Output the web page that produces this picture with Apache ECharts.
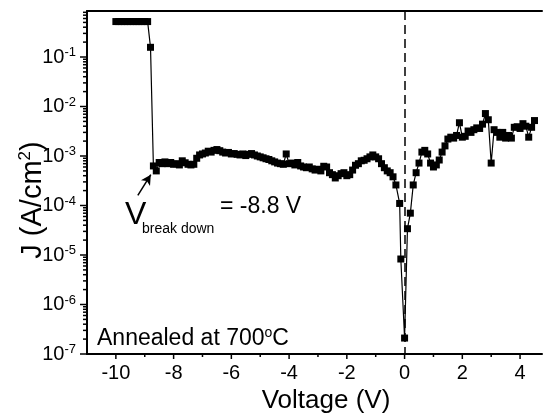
<!DOCTYPE html>
<html><head><meta charset="utf-8">
<script src="https://cdn.jsdelivr.net/npm/echarts@6/dist/echarts.min.js"></script>
<style>html,body{margin:0;padding:0;background:#fff}#c{width:545px;height:416px}</style>
</head><body><div id="c"></div>
<script>
// ---- data ----
const voltage = [
  -10,-9.9,-9.8,-9.7,-9.6,-9.5,-9.4,-9.3,-9.2,-9.1,-9.0,-8.9,-8.8,
  -8.7,-8.6,-8.5,-8.4,-8.3,-8.2,-8.1,-8.0,-7.9,-7.8,-7.7,-7.6,-7.5,-7.4,-7.3,-7.2,-7.1,
  -7.0,-6.9,-6.8,-6.7,-6.6,-6.5,-6.4,-6.3,-6.2,-6.1,-6.0,-5.9,-5.8,-5.7,-5.6,-5.5,-5.4,-5.3,-5.2,-5.1,
  -5.0,-4.9,-4.8,-4.7,-4.6,-4.5,-4.4,-4.3,-4.2,-4.1,-4.0,-3.9,-3.8,-3.7,-3.6,-3.5,-3.4,-3.3,-3.2,-3.1,
  -3.0,-2.9,-2.8,-2.7,-2.6,-2.5,-2.4,-2.3,-2.2,-2.1,-2.0,-1.9,-1.8,-1.7,-1.6,-1.5,-1.4,-1.3,-1.2,-1.1,
  -1.0,-0.9,-0.8,-0.7,-0.6,-0.5,-0.4,-0.3,-0.17,-0.13,0,0.1,0.2,0.3,0.4,0.5,0.6,0.7,0.8,0.9,
  1.0,1.1,1.2,1.3,1.4,1.5,1.6,1.7,1.8,1.9,2.0,2.1,2.2,2.3,2.4,2.5,2.6,2.7,2.8,2.9,
  3.0,3.1,3.2,3.3,3.4,3.5,3.6,3.7,3.8,3.9,4.0,4.1,4.2,4.3,4.4,4.5
];
const currentDensity = [
  0.52,0.52,0.52,0.52,0.52,0.52,0.52,0.52,0.52,0.52,0.52,0.52,0.157,
  6.3e-4,5.0e-4,7.4e-4,7.0e-4,7.6e-4,7.0e-4,7.4e-4,6.8e-4,7.0e-4,6.6e-4,8.0e-4,7.3e-4,6.8e-4,6.6e-4,6.8e-4,9.0e-4,1.05e-3,
  1.1e-3,1.15e-3,1.25e-3,1.2e-3,1.3e-3,1.35e-3,1.28e-3,1.2e-3,1.15e-3,1.18e-3,1.1e-3,1.12e-3,1.08e-3,1.05e-3,1.1e-3,1.02e-3,1.08e-3,1.12e-3,1.05e-3,1.0e-3,
  9.6e-4,9.2e-4,8.8e-4,8.5e-4,8.0e-4,7.6e-4,7.2e-4,7.0e-4,6.8e-4,1.1e-3,7.0e-4,7.2e-4,6.6e-4,7.4e-4,6.3e-4,6.0e-4,5.8e-4,6.0e-4,5.5e-4,5.2e-4,
  5.4e-4,5.0e-4,6.2e-4,6.0e-4,4.6e-4,4.2e-4,3.6e-4,4.0e-4,4.4e-4,4.6e-4,4.0e-4,4.2e-4,5.2e-4,6.5e-4,7.0e-4,8.0e-4,8.2e-4,8.8e-4,9.6e-4,1.05e-3,
  9.6e-4,8.8e-4,7.0e-4,5.8e-4,5.0e-4,4.6e-4,3.8e-4,2.6e-4,1.1e-4,8.3e-6,2.1e-7,3.4e-5,7.0e-5,2.6e-4,4.6e-4,7.2e-4,1.2e-3,1.3e-3,1.1e-3,7.2e-4,
  6.0e-4,6.6e-4,8.3e-4,1.2e-3,1.6e-3,2.2e-3,2.4e-3,2.3e-3,2.6e-3,4.7e-3,2.4e-3,2.5e-3,3.2e-3,3.0e-3,3.4e-3,3.7e-3,3.6e-3,4.4e-3,7.2e-3,5.4e-3,
  7.2e-4,3.4e-3,3.0e-3,2.4e-3,3.0e-3,2.3e-3,2.6e-3,2.3e-3,3.8e-3,3.9e-3,3.6e-3,4.5e-3,4.0e-3,2.4e-3,3.8e-3,5.2e-3
];
const xMajorTicks = [-10,-8,-6,-4,-2,0,2,4];
const xMinorTicks = [-9,-7,-5,-3,-1,1,3];
const yMajorTicks = [1e-7,1e-6,1e-5,1e-4,1e-3,1e-2,1e-1];
const yMinorMultipliers = [2,3,4,5,6,7,8,9];
const breakdownArrowFrom = [-9.24, 1.6e-4];
const breakdownArrowTo = [-8.79, 4.2e-4];

const X_MIN = -11, X_MAX = 4.76, Y_MIN = 1e-7, Y_MAX = 0.85;
const FONT = 'Liberation Sans, Arial, sans-serif';

const yMinorTicks = [];
yMajorTicks.forEach(d => yMinorMultipliers.forEach(m => { const v = d * m; if (v < Y_MAX) yMinorTicks.push(v); }));

const chart = echarts.init(document.getElementById('c'), null, {renderer: 'canvas'});

function tickSeries(data, dir, len) {
  return {
    type: 'custom', silent: true, clip: false, z: 5, animation: false,
    data: data,
    renderItem: function (params, api) {
      const p = api.coord([api.value(0), api.value(1)]);
      const shape = dir === 'x'
        ? {x1: p[0], y1: p[1], x2: p[0], y2: p[1] + len}
        : {x1: p[0], y1: p[1], x2: p[0] - len, y2: p[1]};
      return {type: 'line', shape: shape, style: {stroke: '#000', lineWidth: 1.5}};
    }
  };
}

const seriesData = voltage.map((v, i) => [v, currentDensity[i]]);

chart.setOption({
  animation: false,
  backgroundColor: '#fff',
  textStyle: {fontFamily: FONT},
  grid: {left: 87, top: 11, right: 0, bottom: 62, containLabel: false},
  xAxis: [{
    type: 'value', min: X_MIN, max: X_MAX, interval: 1,
    axisLine: {show: true, onZero: false, lineStyle: {color: '#000', width: 2}},
    axisTick: {show: false},
    splitLine: {show: false},
    axisLabel: {
      color: '#000', fontSize: 20, fontFamily: FONT, margin: 9,
      formatter: v => (Math.abs(v - Math.round(v)) < 1e-6 && Math.round(v) % 2 === 0 && v >= -10 && v <= 4) ? String(Math.round(v)) : ''
    }
  }, {
    type: 'value', position: 'top', min: X_MIN, max: X_MAX,
    axisLine: {show: true, onZero: false, lineStyle: {color: '#000', width: 2}},
    axisTick: {show: false}, axisLabel: {show: false}, splitLine: {show: false}
  }],
  yAxis: {
    type: 'log', logBase: 10, min: Y_MIN, max: Y_MAX, interval: 1,
    axisLine: {show: true, onZero: false, lineStyle: {color: '#000', width: 2}},
    axisTick: {show: false},
    minorTick: {show: false},
    splitLine: {show: false},
    axisLabel: {
      color: '#000', fontFamily: FONT, margin: 11,
      formatter: function (v) {
        const l = Math.log10(v), e = Math.round(l);
        if (Math.abs(l - e) > 1e-6) return '';
        return '{b|10}{s|' + e + '}';
      },
      rich: {
        b: {fontSize: 20, fontFamily: FONT, color: '#000', lineHeight: 22},
        s: {fontSize: 13, fontFamily: FONT, color: '#000', verticalAlign: 'top', lineHeight: 12}
      }
    }
  },
  series: [
    {
      type: 'line', data: seriesData, xAxisIndex: 0,
      symbol: 'rect', symbolSize: 7, showSymbol: true, showAllSymbol: true,
      itemStyle: {color: '#000'},
      lineStyle: {color: '#000', width: 1.2},
      z: 3,
      markLine: {
        silent: true, animation: false, symbol: ['none', 'none'],
        label: {show: false},
        data: [
          [{xAxis: 0, yAxis: Y_MAX, symbol: 'none', lineStyle: {color: '#000', width: 1.5, type: [9, 5]}},
           {xAxis: 0, yAxis: Y_MIN, symbol: 'none'}],
          [{coord: breakdownArrowFrom, symbol: 'none', lineStyle: {color: '#000', width: 1.5, type: 'solid'}},
           {coord: breakdownArrowTo, symbol: 'arrow', symbolSize: [8, 10]}]
        ]
      }
    },
    tickSeries(xMajorTicks.map(v => [v, Y_MIN]), 'x', 5),
    tickSeries(xMinorTicks.map(v => [v, Y_MIN]), 'x', 3),
    tickSeries(yMajorTicks.map(v => [X_MIN, v]), 'y', 7),
    tickSeries(yMinorTicks.map(v => [X_MIN, v]), 'y', 4)
  ],
  graphic: [
    {type: 'text', x: 33, y: 200, rotation: Math.PI / 2, z: 10, style: {
      text: '{a|J (A/cm}{s|2}{a|)}', align: 'center', verticalAlign: 'middle', fill: '#000',
      rich: {
        a: {fontSize: 29, fontFamily: FONT, color: '#000', lineHeight: 32},
        s: {fontSize: 17, fontFamily: FONT, color: '#000', verticalAlign: 'top', lineHeight: 15}
      }
    }},
    {type: 'text', x: 326, y: 401, z: 10, style: {
      text: 'Voltage (V)', font: '26px ' + FONT, fill: '#000', align: 'center', verticalAlign: 'middle'
    }},
    {type: 'text', left: 125, top: 199, style: {text: 'V', font: '32px ' + FONT, fill: '#000'}, z: 10},
    {type: 'text', left: 142, top: 222, style: {text: 'break down', font: '14px ' + FONT, fill: '#000'}, z: 10},
    {type: 'text', left: 220, top: 195, style: {text: '= -8.8 V', font: '23px ' + FONT, fill: '#000'}, z: 10},
    {type: 'text', left: 97, top: 326, z: 10, style: {
      text: '{a|Annealed at 700}{s|o}{a|C}', fill: '#000',
      rich: {
        a: {fontSize: 23, fontFamily: FONT, color: '#000', lineHeight: 25},
        s: {fontSize: 14, fontFamily: FONT, color: '#000', verticalAlign: 'top', lineHeight: 13}
      }
    }}
  ]
});
</script></body></html>
